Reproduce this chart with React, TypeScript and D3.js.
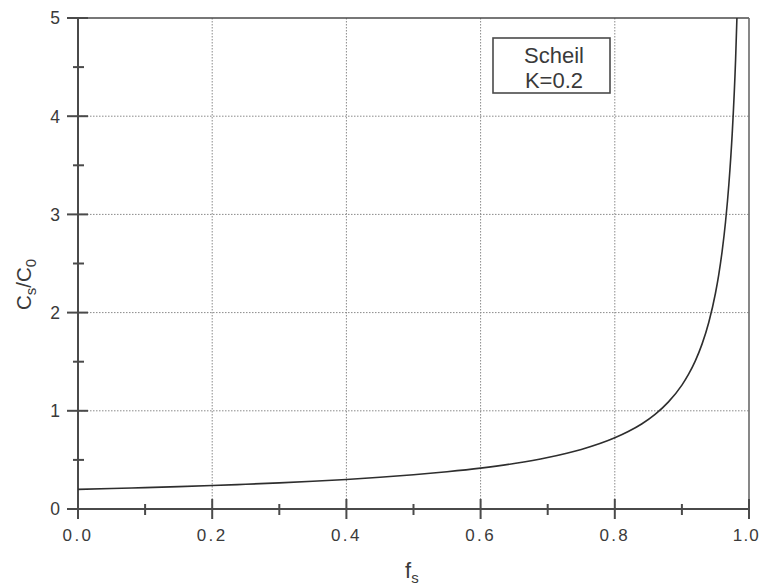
import React from "react";
import * as d3 from "d3";

// Solid fraction (fs) and normalised solid concentration (Cs/C0)
const fsValues = [0, 0.05, 0.1, 0.15, 0.2, 0.25, 0.3, 0.35, 0.4, 0.45, 0.5, 0.55, 0.6, 0.65, 0.7, 0.75, 0.8, 0.82, 0.84, 0.86, 0.88, 0.9, 0.91, 0.92, 0.93, 0.94, 0.95, 0.955, 0.96, 0.965, 0.97, 0.975, 0.98, 0.982];
const csValues = [0.2, 0.208, 0.218, 0.228, 0.239, 0.252, 0.266, 0.282, 0.301, 0.323, 0.348, 0.379, 0.416, 0.463, 0.524, 0.606, 0.725, 0.789, 0.866, 0.964, 1.091, 1.262, 1.373, 1.509, 1.679, 1.899, 2.197, 2.39, 2.627, 2.923, 3.307, 3.825, 4.573, 5.0];

const xTicks = [0, 0.2, 0.4, 0.6, 0.8, 1.0];
const xMinorTicks = [0.1, 0.3, 0.5, 0.7, 0.9];
const yTicks = [0, 1, 2, 3, 4, 5];
const yMinorTicks = [0.5, 1.5, 2.5, 3.5, 4.5];
const legendLines = ["Scheil", "K=0.2"];

const W = 761, H = 587;
const L = 78, R = 749, T = 18, B = 509;
const FONT = "'Liberation Sans', Arial, Helvetica, sans-serif";
const TXT = "#3a3a3a";
const AX = "#4a4a4a";

export default function App() {
  const x = d3.scaleLinear().domain([0, 1]).range([L, R]);
  const y = d3.scaleLinear().domain([0, 5]).range([B, T]);
  const pts: [number, number][] = fsValues.map((f, i) => [f, csValues[i]]);
  const line = d3.line<[number, number]>().x(d => x(d[0])).y(d => y(d[1])).curve(d3.curveMonotoneX);

  return (
    <svg width={W} height={H} style={{ position: "absolute", left: 0, top: 0, background: "#fff" }} fontFamily={FONT}>
      <rect width={W} height={H} fill="#fff" />
      {/* grid */}
      {xTicks.filter(t => t > 0 && t < 1).map(t => (
        <line key={"gx" + t} x1={x(t)} x2={x(t)} y1={T} y2={B} stroke="#8a8a8a" strokeWidth={1} strokeDasharray="1.5,1.5" />
      ))}
      {yTicks.filter(t => t > 0 && t < 5).map(t => (
        <line key={"gy" + t} x1={L} x2={R} y1={y(t)} y2={y(t)} stroke="#8a8a8a" strokeWidth={1} strokeDasharray="1.5,1.5" />
      ))}
      {/* frame */}
      <line x1={L} x2={R} y1={T} y2={T} stroke={AX} strokeWidth={1.6} />
      <line x1={R} x2={R} y1={T} y2={B} stroke="#6a6a6a" strokeWidth={1.6} />
      <line x1={L} x2={L} y1={T} y2={B} stroke={AX} strokeWidth={2} />
      <line x1={L} x2={R} y1={B} y2={B} stroke={AX} strokeWidth={2} />
      {/* curve */}
      <path d={line(pts) || ""} fill="none" stroke="#2e2e2e" strokeWidth={1.6} />
      {/* x ticks */}
      {xTicks.map((t, i) => {
        const last = i === xTicks.length - 1;
        return (
          <g key={"xt" + t}>
            <line x1={x(t)} x2={x(t)} y1={B - 10} y2={B + 10} stroke={AX} strokeWidth={2} />
            <text x={last ? 760 : x(t)} y={541} textAnchor={last ? "end" : "middle"} fontSize={17} fill={TXT} letterSpacing={last ? 1.2 : 2.4}>{t.toFixed(1)}</text>
          </g>
        );
      })}
      {xMinorTicks.map(t => (
        <line key={"xm" + t} x1={x(t)} x2={x(t)} y1={B - 5} y2={B + 6} stroke={AX} strokeWidth={2} />
      ))}
      {/* y ticks */}
      {yTicks.map(t => (
        <g key={"yt" + t}>
          <line x1={L - 11} x2={L + 10} y1={y(t)} y2={y(t)} stroke={AX} strokeWidth={2} />
          <text x={60} y={y(t)} dy="0.36em" textAnchor="end" fontSize={17.5} fill={TXT}>{t}</text>
        </g>
      ))}
      {yMinorTicks.map(t => (
        <line key={"ym" + t} x1={L - 5} x2={L + 6} y1={y(t)} y2={y(t)} stroke={AX} strokeWidth={2} />
      ))}
      {/* legend */}
      <rect x={493} y={38} width={117} height={55} fill="#fff" stroke={AX} strokeWidth={1.6} />
      {legendLines.map((s, i) => (
        <text key={s} x={554} y={63 + i * 25} textAnchor="middle" fontSize={22} fill={TXT}>{s}</text>
      ))}
      {/* axis titles */}
      <text x={405} y={578} fontSize={22} fill={TXT}>f<tspan fontSize={15} dy={5}>s</tspan></text>
      <text transform="translate(31,310) rotate(-90)" fontSize={20.5} fill={TXT}>
        C<tspan fontSize={15} dy={5}>s</tspan><tspan dy={-5}>/C</tspan><tspan fontSize={15} dy={5}>0</tspan>
      </text>
    </svg>
  );
}
